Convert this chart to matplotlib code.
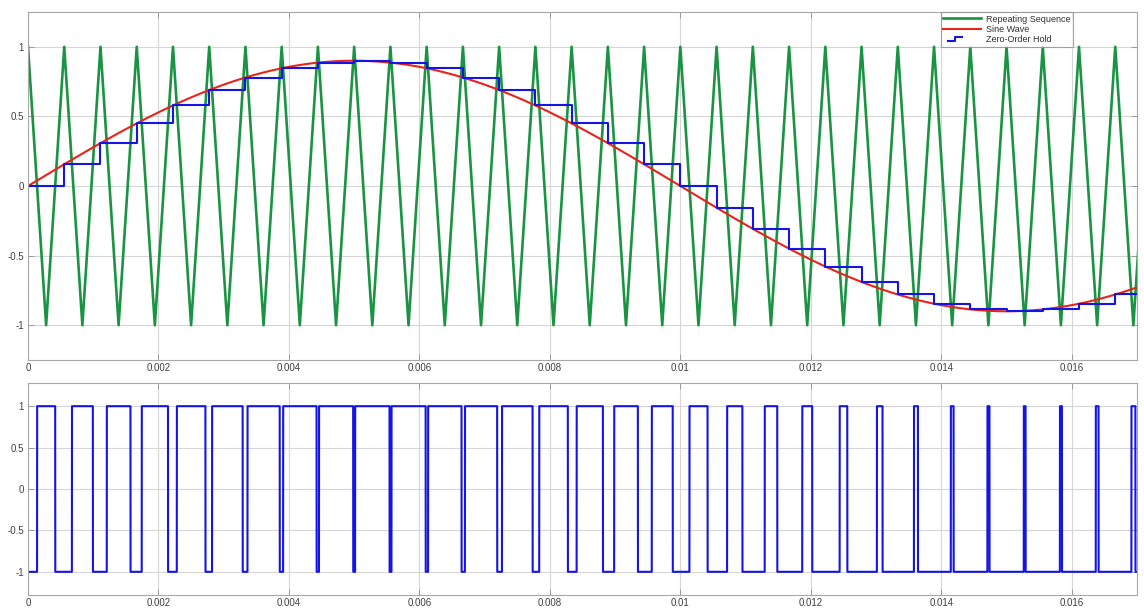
import numpy as np
import matplotlib
matplotlib.use("Agg")
from matplotlib import pyplot as plt
from matplotlib.legend_handler import HandlerBase
from matplotlib.lines import Line2D

plt.rcParams['font.family'] = ['Liberation Sans', 'DejaVu Sans']

# simulation settings (Simulink scope capture)
T_END = 0.017
SINE_AMP = 0.9          # Sine Wave amplitude
SINE_HZ = 50            # Sine Wave frequency
CARRIER_HZ = 1800       # Repeating Sequence (triangle carrier) frequency
CARRIER_PEAKS = [1, -1]  # triangle swings between these values

# Zero-Order Hold output, one level per carrier period
ZOH_LEVELS = [0.0, 0.156, 0.308, 0.45, 0.579, 0.689, 0.779, 0.846, 0.886, 0.9,
              0.886, 0.846, 0.779, 0.689, 0.579, 0.45, 0.308, 0.156, 0.0,
              -0.156, -0.308, -0.45, -0.579, -0.689, -0.779, -0.846, -0.886,
              -0.9, -0.886, -0.846, -0.779]

X_TICKS = [0, 0.002, 0.004, 0.006, 0.008, 0.01, 0.012, 0.014, 0.016]
X_TICK_LABELS = ['0', '0.002', '0.004', '0.006', '0.008', '0.01', '0.012', '0.014', '0.016']
Y_TICKS = [-1, -0.5, 0, 0.5, 1]
Y_TICK_LABELS = ['-1', '-0.5', '0', '0.5', '1']

GREEN = '#1a9442'
RED = '#e8231c'
BLUE = '#1414e6'

ts = 1.0 / CARRIER_HZ
n_half = len(ZOH_LEVELS) * 2 + 2
tri_t = np.arange(n_half) * ts / 2
tri_v = np.array([CARRIER_PEAKS[i % 2] for i in range(n_half)])

t = np.linspace(0, T_END, 4000)
sine = SINE_AMP * np.sin(2 * np.pi * SINE_HZ * t)

zoh_t = np.arange(len(ZOH_LEVELS) + 1) * ts
zoh_v = ZOH_LEVELS + [ZOH_LEVELS[-1]]

# PWM: compare held sample against the carrier
tf = np.linspace(0, T_END, 400000)
idx = np.minimum((tf / ts).astype(int), len(ZOH_LEVELS) - 1)
held = np.array(ZOH_LEVELS)[idx]
carrier = np.interp(tf, tri_t, tri_v)
pwm = np.where(held > carrier, 1.0, -1.0)


class StepHandler(HandlerBase):
    def create_artists(self, legend, orig_handle, xdescent, ydescent,
                       width, height, fontsize, trans):
        x0 = -xdescent
        y0 = -ydescent + height / 2
        xs = [x0 + 0.12 * width, x0 + 0.32 * width, x0 + 0.32 * width, x0 + 0.5 * width]
        ys = [y0 - 0.3 * height, y0 - 0.3 * height, y0 + 0.3 * height, y0 + 0.3 * height]
        line = Line2D(xs, ys, color=orig_handle.get_color(), lw=orig_handle.get_linewidth())
        line.set_transform(trans)
        return [line]


def style_axes(ax, ylim):
    ax.set_xlim(0, T_END)
    ax.set_ylim(*ylim)
    ax.set_xticks(X_TICKS)
    ax.set_xticklabels(X_TICK_LABELS)
    ax.set_yticks(Y_TICKS)
    ax.set_yticklabels(Y_TICK_LABELS)
    ax.grid(True, color='#d6d6d6', lw=0.8)
    ax.set_axisbelow(True)
    ax.tick_params(direction='in', length=4, width=0.6, color='#909090',
                   labelsize=7, labelcolor='#404040', pad=3,
                   top=True, right=True)
    ax.tick_params(axis='x', pad=2.5)
    for s in ax.spines.values():
        s.set_color('#a8a8a8')
        s.set_linewidth(0.8)


fig = plt.figure(figsize=(11.44, 6.10), dpi=100)
ax1 = fig.add_axes([28 / 1144, 1 - 360 / 610, 1109 / 1144, 348 / 610])
ax2 = fig.add_axes([28 / 1144, 1 - 595 / 610, 1109 / 1144, 212 / 610])

ax1.plot(tri_t, tri_v, color=GREEN, lw=1.9, label='Repeating Sequence')
ax1.plot(t, sine, color=RED, lw=1.5, label='Sine Wave')
zoh_line, = ax1.plot(zoh_t, zoh_v, color=BLUE, lw=1.5, drawstyle='steps-post',
                     label='Zero-Order Hold')
style_axes(ax1, (-1.25, 1.25))

leg = ax1.legend(loc='upper right', bbox_to_anchor=(0.9425, 0.999), fontsize=6.5,
                 frameon=True, fancybox=False, edgecolor='#8c8c8c',
                 handlelength=4.2, handletextpad=0.6, labelspacing=0.15,
                 borderpad=0.25, borderaxespad=0,
                 handler_map={zoh_line: StepHandler()})
leg.get_frame().set_linewidth(0.8)
for txt in leg.get_texts():
    txt.set_color('#303030')

ax2.plot(tf, pwm, color=BLUE, lw=1.5)
style_axes(ax2, (-1.28, 1.28))

fig.savefig('out.png', dpi=100)
